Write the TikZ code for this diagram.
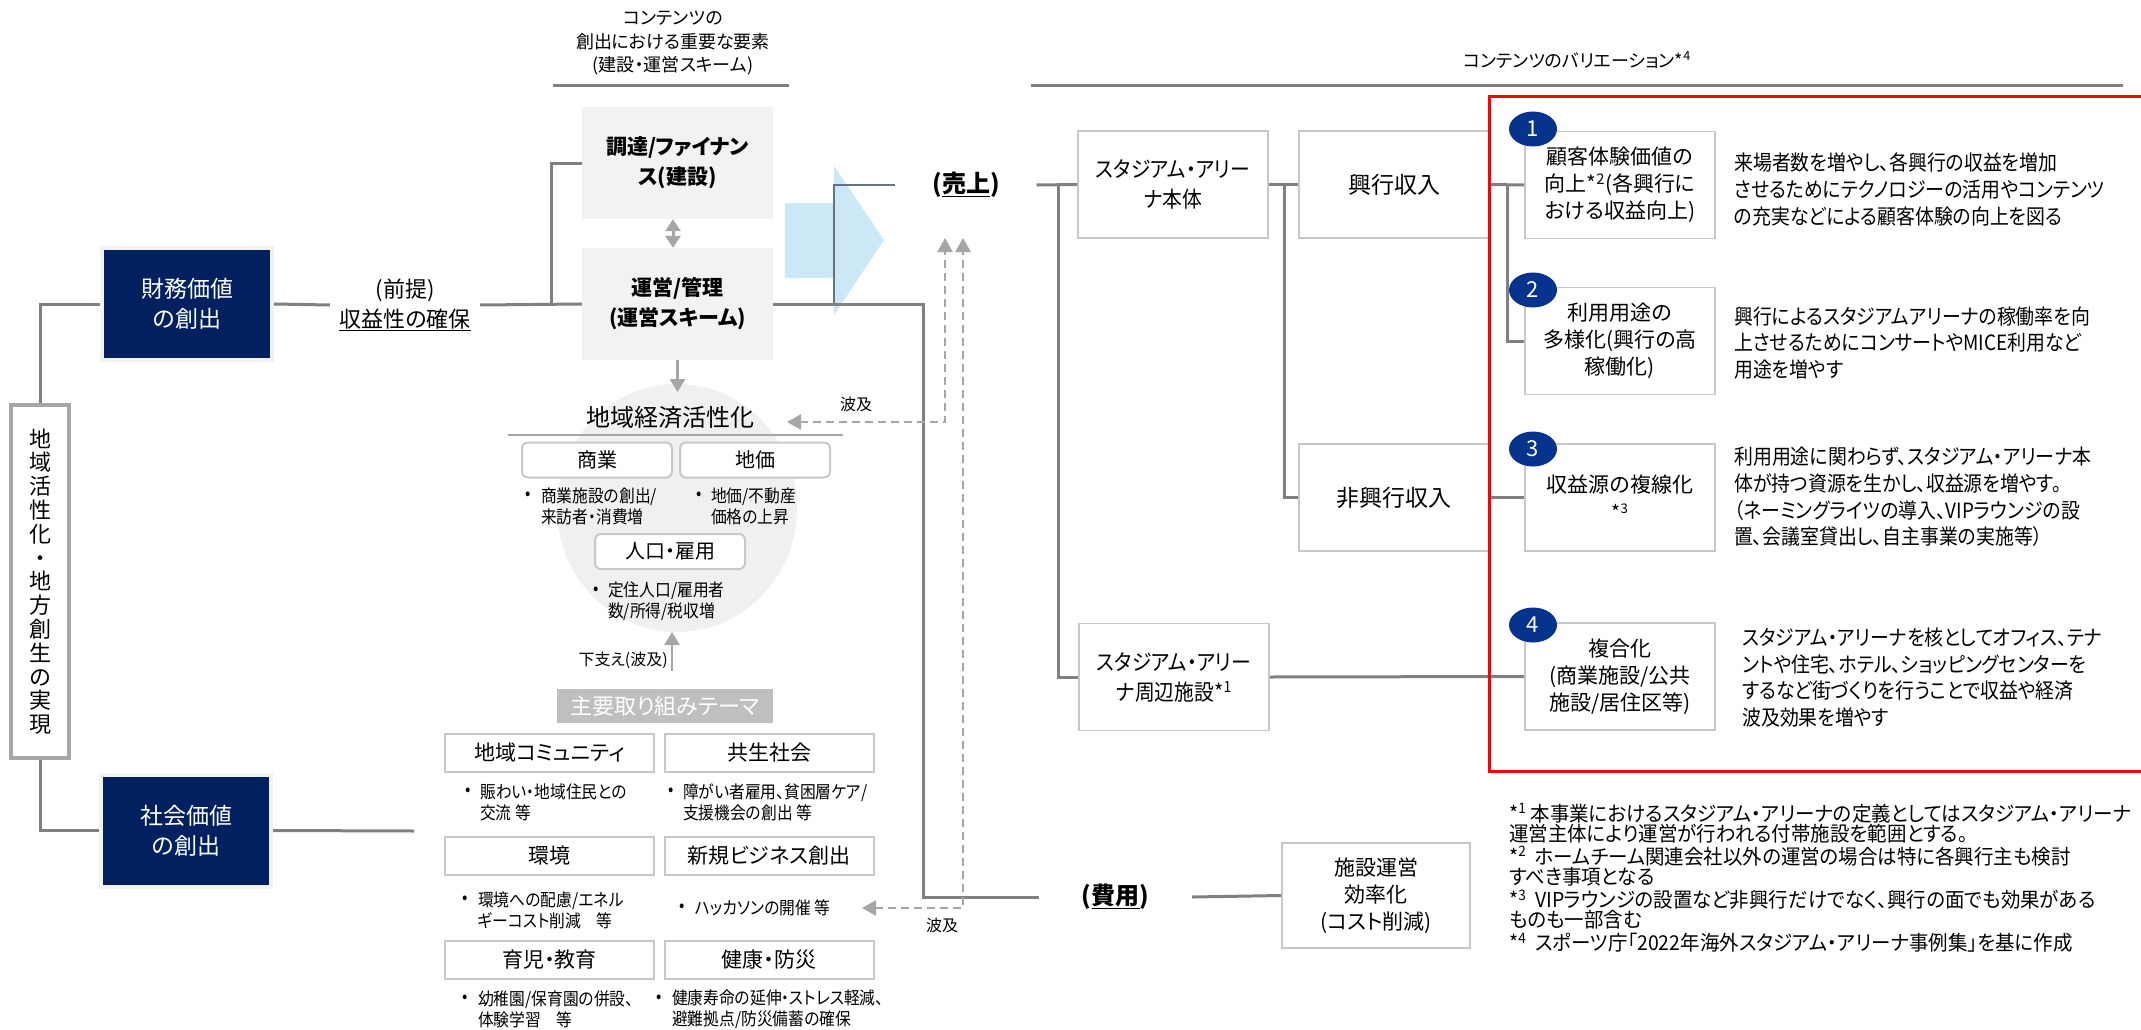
\documentclass[tikz,border=0pt]{standalone}
\usepackage{fontspec}
\setmainfont{Noto Sans CJK JP}[RawFeature=+palt]
\newfontfamily\nf{Noto Sans CJK JP}[RawFeature=+palt, FakeStretch=0.9]
\newfontfamily\ff{Noto Sans CJK JP}[RawFeature=+palt, FakeStretch=0.95]
\usetikzlibrary{arrows.meta,shapes.geometric}
\definecolor{navy}{RGB}{0,32,96}
\definecolor{cnavy}{RGB}{6,52,140}
\definecolor{linegray}{RGB}{128,128,128}
\definecolor{boxgray}{RGB}{200,200,200}
\definecolor{dashgray}{RGB}{166,166,166}
\definecolor{lightfill}{RGB}{242,242,242}
\definecolor{lblue}{RGB}{204,231,246}
\definecolor{ellgray}{RGB}{240,240,240}
\definecolor{bannergray}{RGB}{191,191,191}
\definecolor{thinline}{RGB}{100,115,135}
\definecolor{vboxgray}{RGB}{166,166,166}
\newcommand\fsz[2]{\fontsize{#1pt}{#2pt}\selectfont}
\tikzset{
  conn/.style={draw=linegray, line width=3pt},
  rulel/.style={draw=linegray, line width=3pt},
  navybox/.style={fill=navy, draw=lightfill, line width=4pt, text=white, minimum width=170pt, minimum height=112pt, align=center, font=\fsz{23}{30}},
  scheme/.style={fill=lightfill, minimum width=191pt, minimum height=112pt, align=center, font=\fsz{21}{30}\bfseries},
  wbox/.style={fill=white, draw=boxgray, line width=1.8pt, minimum width=190pt, minimum height=107pt, align=center, font=\nf\fsz{22}{30}},
  cbox/.style={fill=white, draw=boxgray, line width=1.8pt, minimum width=190pt, minimum height=107pt, align=center, font=\fsz{21}{27}},
  theme/.style={fill=white, draw=boxgray, line width=2pt, minimum width=209pt, minimum height=38pt, font=\fsz{21}{24}},
  rbox/.style={fill=white, draw=boxgray, line width=2pt, rounded corners=6pt, minimum width=150pt, minimum height=35pt, font=\fsz{20}{24}},
  bul/.style={font=\nf\fsz{17.5}{21}, align=left, anchor=west, inner sep=0pt},
  desc/.style={font=\nf\fsz{21}{26.7}, align=left, anchor=west, inner sep=0pt},
  numc/.style={ellipse, fill=cnavy, minimum width=48pt, minimum height=35pt, inner sep=0pt, text=white, font=\fsz{22}{24}},
  garrow/.style={draw=dashgray, line width=3pt, -{Triangle[length=13pt,width=15pt]}},
  dasharrow/.style={draw=dashgray, line width=2.5pt, dash pattern=on 8pt off 5pt, {Triangle[length=14pt,width=15pt]}-{Triangle[length=14pt,width=15pt]}},
  lbl/.style={font=\fsz{16}{20}, inner sep=0pt}
}
\begin{document}
\begin{tikzpicture}[x=1pt,y=-1pt]
\useasboundingbox (0,0) rectangle (2141,1030);
\fill[white] (0,0) rectangle (2141,1030);

% background shapes
\fill[ellgray] (677,508) ellipse [x radius=120pt, y radius=124pt];
\fill[lblue] (785,203) -- (834,203) -- (834,166) -- (884,240) -- (834,315) -- (834,278) -- (785,278) -- cycle;

% left column
\node[draw=vboxgray, line width=4pt, fill=white, minimum width=58pt, minimum height=353pt, align=center, font=\fsz{22}{23.8}] (lv) at (40,581.5)
 {地\\域\\活\\性\\化\\・\\地\\方\\創\\生\\の\\実\\現};
\node[navybox] (zaimu) at (187,304) {財務価値\\の創出};
\node[navybox] (shakai) at (186,830.5) {社会価値\\の創出};
\draw[conn] (lv.north) |- (zaimu.west);
\draw[conn] (lv.south) |- (shakai.west);

% scheme
\node[font=\fsz{18}{23.5}, align=center] (hdr1) at (673,43) {コンテンツの\\創出における重要な要素\\(建設・運営スキーム)};
\draw[rulel] (553,86) -- (789,86);
\node[scheme] (chotatsu) at (677.5,163) {調達/ファイナン\\ス(建設)};
\node[scheme] (unei) at (677.5,304) {運営/管理\\(運営スキーム)};
\node[font=\fsz{22}{30}, align=center, minimum width=150pt, inner sep=0pt] (premise) at (405,305) {(前提)\\\underline{収益性の確保}};
\coordinate (j1) at (551,304);
\draw[conn] (zaimu.east) -- (premise.west);
\draw[conn] (premise.east) -- (unei.west);
\draw[conn] (j1) |- (chotatsu.west);
\draw[draw=dashgray, line width=3pt, {Triangle[length=12pt,width=15pt]}-{Triangle[length=12pt,width=15pt]}] ([xshift=-4.5pt]chotatsu.south) -- ([xshift=-4.5pt]unei.north);

% revenue side
\node[font=\fsz{24}{28}\bfseries, minimum width=141pt, inner sep=0pt] (uriage) at (966,185) {(\underline{売上})};
\coordinate (t1) at (834,304);
\draw[draw=thinline, line width=1.2pt] (t1) |- (uriage.west);
\node[font=\fsz{24}{28}\bfseries, minimum width=153pt, inner sep=0pt] (hiyo) at (1115.5,897) {(\underline{費用})};
\coordinate (k) at (923,897);
\draw[conn] (unei.east) -| (k) -- (hiyo.west);

\node[wbox] (hontai) at (1173,184.5) {スタジアム・アリー\\ナ本体};
\node[wbox, font=\fsz{23}{30}] (kogyo) at (1394,184.5) {興行収入};
\node[wbox, font=\fsz{23}{30}] (hikogyo) at (1394,497.5) {非興行収入};
\node[wbox] (shuhen) at (1174,677) {スタジアム・アリー\\ナ周辺施設*\textsuperscript{1}};
\node[cbox, minimum width=188pt, minimum height=105pt] (sisetsu) at (1376,895.5) {施設運営\\効率化\\(コスト削減)};

\coordinate (j2) at (1058,184.5);
\coordinate (j3) at (1284,184.5);
\coordinate (j4) at (1507,185);
\draw[conn] (uriage.east) -- (hontai.west);
\draw[conn] (j2) |- (shuhen.west);
\draw[conn] (hontai.east) -- (kogyo.west);
\draw[conn] (j3) |- (hikogyo.west);
\draw[conn] (hiyo.east) -- (sisetsu.west);

\node[font=\fsz{18}{22}] (hdr2) at (1577,60) {コンテンツのバリエーション*\textsuperscript{4}};
\draw[rulel] (1031,86) -- (2123,86);

\node[cbox] (c1) at (1620,185) {顧客体験価値の\\向上*\textsuperscript{2}(各興行に\\おける収益向上)};
\node[cbox] (c2) at (1620,341) {利用用途の\\多様化(興行の高\\稼働化)};
\node[cbox] (c3) at (1620,497.5) {収益源の複線化\\{\fsz{19}{20}*\textsuperscript{3}}};
\node[cbox] (c4) at (1620,676.5) {複合化\\(商業施設/公共\\施設/居住区等)};
\draw[conn] (kogyo.east) -- (c1.west);
\draw[conn] (j4) |- (c2.west);
\draw[conn] (hikogyo.east) -- (c3.west);
\draw[conn] (shuhen.east) -- (c4.west);

\node[numc] (n1) at (1533,129) {1};
\node[numc] (n2) at (1533,290) {2};
\node[numc] (n3) at (1533,449) {3};
\node[numc] (n4) at (1533,625) {4};

\node[desc] (d1) at (1734,189.5) {来場者数を増やし、各興行の収益を増加\\させるためにテクノロジーの活用やコンテンツ\\の充実などによる顧客体験の向上を図る};
\node[desc] (d2) at (1734,343) {興行によるスタジアムアリーナの稼働率を向\\上させるためにコンサートやMICE利用など\\用途を増やす};
\node[desc] (d3) at (1734,497) {利用用途に関わらず、スタジアム・アリーナ本\\体が持つ資源を生かし、収益源を増やす。\\（ネーミングライツの導入、VIPラウンジの設\\置、会議室貸出し、自主事業の実施等）};
\node[desc] (d4) at (1742,677.5) {スタジアム・アリーナを核としてオフィス、テナ\\ントや住宅、ホテル、ショッピングセンターを\\するなど街づくりを行うことで収益や経済\\波及効果を増やす};

\draw[red, line width=3pt] (2150,97) -- (1489,97) -- (1489,771) -- (2150,771);

% footnotes
\node[anchor=west, align=left, inner sep=0pt, font=\ff\fsz{20.5}{20}] (fn) at (1509,878)
{*\textsuperscript{1} 本事業におけるスタジアム・アリーナの定義としてはスタジアム・アリーナ\\
運営主体により運営が行われる付帯施設を範囲とする。\\[3.3pt]
*\textsuperscript{2}\ \ ホームチーム関連会社以外の運営の場合は特に各興行主も検討\\
すべき事項となる\\[3.3pt]
*\textsuperscript{3}\ \ VIPラウンジの設置など非興行だけでなく、興行の面でも効果がある\\
ものも一部含む\\[3.3pt]
*\textsuperscript{4}\ \ スポーツ庁「2022年海外スタジアム・アリーナ事例集」を基に作成};

% regional economy
\coordinate (kt) at (677.5,392);
\draw[garrow] (unei.south) -- (kt);
\node[font=\fsz{24}{28}] (keizai) at (670,417) {地域経済活性化};
\draw[draw=dashgray, line width=1.8pt] (508,435) -- (843,435);
\node[rbox] (shogyo) at (597,460) {商業};
\node[rbox] (chika) at (755,460) {地価};
\node[rbox] (jinko) at (670,551.5) {人口・雇用};
\node[bul] (b1) at (525,496) {•};
\node[bul] (bt1) at (541,506.5) {商業施設の創出/\\来訪者・消費増};
\node[bul] (b2) at (696,496) {•};
\node[bul] (bt2) at (711,506.5) {地価/不動産\\価格の上昇};
\node[bul] (b3) at (593,591) {•};
\node[bul] (bt3) at (608,601) {定住人口/雇用者\\数/所得/税収増};

\coordinate (sa) at (672,671);
\coordinate (sb) at (672,632);
\draw[garrow, line width=2.5pt] (sa) -- (sb);
\node[lbl, anchor=east] (sasae) at (668,660) {下支え(波及)};

\node[fill=bannergray, text=white, minimum width=216pt, minimum height=34pt, font=\fsz{22}{26}] (banner) at (665,706) {主要取り組みテーマ};
\node[theme] (th1) at (549.5,752.5) {地域コミュニティ};
\node[theme] (th2) at (769,752.5) {共生社会};
\node[theme] (th3) at (549.5,856) {環境};
\node[theme] (th4) at (769,856) {新規ビジネス創出};
\node[theme] (th5) at (549.5,960) {育児・教育};
\node[theme] (th6) at (769,960) {健康・防災};

\node[bul] (b4) at (465,792) {•};
\node[bul] (bt4) at (480,802) {賑わい・地域住民との\\交流 等};
\node[bul] (b5) at (668,792) {•};
\node[bul] (bt5) at (683,802) {障がい者雇用、貧困層ケア/\\支援機会の創出 等};
\node[bul] (b6) at (462,900) {•};
\node[bul] (bt6) at (478,910.5) {環境への配慮/エネル\\ギーコスト削減　等};
\node[bul] (b7) at (679,908) {•};
\node[bul] (bt7) at (695,908) {ハッカソンの開催 等};
\node[bul] (b8) at (462,999) {•};
\node[bul] (bt8) at (478,1009) {幼稚園/保育園の併設、\\体験学習　等};
\node[bul] (b9) at (656,999) {•};
\node[bul] (bt9) at (672,1009) {健康寿命の延伸・ストレス軽減、\\避難拠点/防災備蓄の確保};

\coordinate (se) at (414,831);
\draw[conn] (shakai.east) -- (se);

% dashed spill-over arrows
\coordinate (da1) at (945,238);
\coordinate (da2) at (963,238);
\coordinate (dk1) at (945,422);
\coordinate (dk2) at (963,908);
\coordinate (ke) at (787,422);
\coordinate (ha) at (862,908);
\draw[dasharrow] (ke) -- (dk1) -- (da1);
\draw[dasharrow] (ha) -- (dk2) -- (da2);
\node[lbl] (hk1) at (856,404) {波及};
\node[lbl] (hk2) at (942,925) {波及};
\end{tikzpicture}
\end{document}
